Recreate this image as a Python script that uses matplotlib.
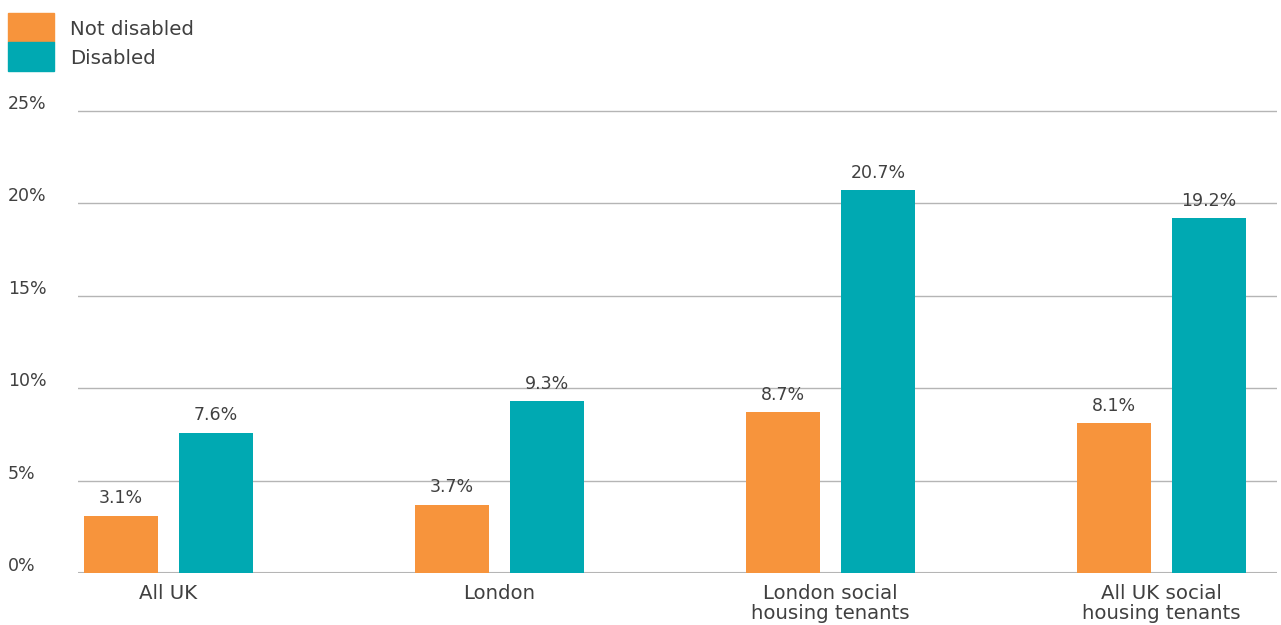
import matplotlib
matplotlib.use('Agg')
from matplotlib import pyplot as plt
from matplotlib.patches import Rectangle
from matplotlib.transforms import blended_transform_factory
import numpy as np

# 
# Disability rates by group
# 

categories = ['All UK', 'London', 'London social\nhousing tenants', 'All UK social\nhousing tenants']
series_names = ['Not disabled', 'Disabled']
not_disabled = [3.1, 3.7, 8.7, 8.1]
disabled = [7.6, 9.3, 20.7, 19.2]
y_ticks = [0, 5, 10, 15, 20, 25]
source_text = 'Source: SMF analysis of Labour Force Survey'

colors = ['#F7943C', '#00A9B2']
text_color = '#404040'
grid_color = '#b5b5b5'

plt.rcParams['font.family'] = ['DejaVu Sans']

W, H = 1281, 625
fig = plt.figure(figsize=(W / 100, H / 100), dpi=100)

# axes placement in pixels
x0, x1 = 78, 1277
y_zero, y_top = 573, 111
ymax = 25.5
px_per_unit = (y_zero - y_top) / 25
ax_h = (ymax * px_per_unit) / H
ax = fig.add_axes([x0 / W, 1 - y_zero / H, (x1 - x0) / W, ax_h])

x = np.arange(len(categories))
width = 0.2236
offset = 0.1435

bars1 = ax.bar(x - offset, not_disabled, width, color=colors[0], zorder=3)
bars2 = ax.bar(x + offset, disabled, width, color=colors[1], zorder=3)

for bars, vals in [(bars1, not_disabled), (bars2, disabled)]:
    for b, v in zip(bars, vals):
        ax.annotate('{:.1f}%'.format(v), (b.get_x() + b.get_width() / 2, v),
                    xytext=(0, 6), textcoords='offset points',
                    ha='center', va='bottom', fontsize=12.5, color=text_color)

ax.set_xlim(-0.273, 3.349)
ax.set_ylim(0, ymax)

for t in y_ticks:
    ax.axhline(t, color=grid_color, lw=1.0 if t else 1.5, zorder=1)

for s in ax.spines.values():
    s.set_visible(False)
ax.set_yticks([])
ax.set_xticks(x)
ax.set_xticklabels(categories, fontsize=14.2, color=text_color, linespacing=1.05)
ax.tick_params(axis='x', length=0, pad=8)

# y labels sit above the gridlines at the far left
trans = blended_transform_factory(fig.transFigure, ax.transData)
for t in y_ticks:
    ax.text(8 / W, t + 7 / px_per_unit, '{}%'.format(t), transform=trans,
            ha='left', va='center', fontsize=12.5, color=text_color)

# legend drawn as stacked squares
sq_w, sq_h = 46, 29
for i, name in enumerate(series_names):
    top = 13 + i * sq_h
    fig.patches.append(Rectangle((8 / W, 1 - (top + sq_h) / H), sq_w / W, sq_h / H,
                                 transform=fig.transFigure, color=colors[i]))
    fig.text(70 / W, 1 - (top + sq_h / 2 + 2) / H, name, ha='left', va='center',
             fontsize=14.2, color=text_color)

fig.text(8 / W, 1 - 632 / H, source_text, ha='left', va='center', fontsize=11, color='#00A9B2')

fig.savefig('out.png', dpi=100)
